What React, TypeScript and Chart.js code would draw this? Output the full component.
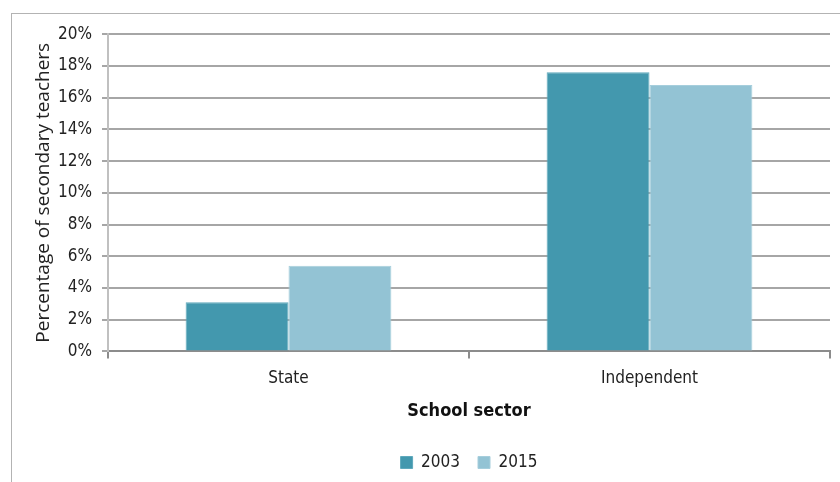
import React, { useEffect, useRef } from "react";
import { Chart, registerables } from "chart.js";

Chart.register(...registerables);

const categories = ["State", "Independent"];
const series2003 = [3.1, 17.6];
const series2015 = [5.4, 16.8];
const seriesLabels = ["2003", "2015"];
const yTicks = [0, 2, 4, 6, 8, 10, 12, 14, 16, 18, 20];
const yTitle = "Percentage of secondary teachers";
const xTitle = "School sector";

const TICK_FONT = "'Liberation Sans Narrow', 'DejaVu Sans Condensed', 'Roboto', sans-serif";
const TITLE_FONT = "'Open Sans', 'Noto Sans', sans-serif";

const legendShift = {
  id: "legendShift",
  afterLayout(chart: any) {
    const lg = chart.legend;
    if (!lg) return;
    const target = (chart.chartArea.left + chart.chartArea.right) / 2;
    const current = (lg.left + lg.right) / 2;
    const dx = target - current;
    lg.left += dx;
    lg.right += dx;
    if (lg.legendHitBoxes) lg.legendHitBoxes.forEach((h: any) => (h.left += dx));
  },
};

export default function App() {
  const ref = useRef<HTMLCanvasElement | null>(null);
  useEffect(() => {
    if (!ref.current) return;
    const chart = new Chart(ref.current, {
      type: "bar",
      data: {
        labels: categories,
        datasets: [
          {
            label: seriesLabels[0],
            data: series2003,
            backgroundColor: "#4398AE",
            borderColor: "#5FA9BC",
            borderWidth: 1,
            categoryPercentage: 0.57,
            barPercentage: 1,
          },
          {
            label: seriesLabels[1],
            data: series2015,
            backgroundColor: "#93C3D4",
            borderColor: "#A6CEDC",
            borderWidth: 1,
            categoryPercentage: 0.57,
            barPercentage: 1,
          },
        ],
      },
      plugins: [legendShift],
      options: {
        animation: false,
        responsive: false,
        devicePixelRatio: 1,
        layout: { padding: { top: 20, right: 94, left: 0, bottom: 1 } },
        plugins: {
          tooltip: { enabled: false },
          legend: {
            position: "bottom",
            labels: {
              boxWidth: 12,
              boxHeight: 12,
              padding: 18,
              color: "#222",
              font: { family: TICK_FONT, size: 17 },
              useBorderRadius: false,
            },
          },
        },
        scales: {
          x: {
            offset: true,
            grid: {
              offset: true,
              drawOnChartArea: false,
              drawTicks: true,
              tickLength: 7,
              color: "#8c8c8c",
              lineWidth: 2,
            },
            border: { display: true, color: "#8c8c8c", width: 2 },
            ticks: {
              color: "#222",
              font: { family: TICK_FONT, size: 17, lineHeight: 1 },
              padding: 12,
            },
            title: {
              display: true,
              text: xTitle,
              color: "#111",
              font: { family: TICK_FONT, size: 18, weight: "bold" },
              padding: { top: 1, bottom: 14 },
            },
          },
          y: {
            min: 0,
            max: 20,
            afterBuildTicks: (axis: any) => {
              axis.ticks = yTicks.map((v) => ({ value: v }));
            },
            afterFit: (axis: any) => {
              axis.width = 96;
            },
            grid: {
              color: "#a6a6a6",
              lineWidth: 2,
              tickLength: 6,
            },
            border: { display: true, color: "#c0c0c0", width: 2 },
            ticks: {
              color: "#222",
              font: { family: TICK_FONT, size: 17 },
              padding: 10,
              callback: (v: any) => `${v}%`,
            },
            title: {
              display: true,
              text: yTitle,
              color: "#222",
              font: { family: TITLE_FONT, size: 19 },
              padding: { top: 20, bottom: 0 },
            },
          },
        },
      },
    });
    return () => chart.destroy();
  }, []);
  return (
    <div style={{ position: "fixed", left: 0, top: 0, width: 840, height: 482, overflow: "hidden", background: "#fff" }}>
      <div
        style={{
          position: "absolute",
          left: 11,
          top: 13,
          width: 914,
          height: 480,
          border: "1px solid #b3b3b3",
          boxSizing: "border-box",
        }}
      >
        <canvas ref={ref} width={912} height={468} style={{ display: "block" }} />
      </div>
    </div>
  );
}
